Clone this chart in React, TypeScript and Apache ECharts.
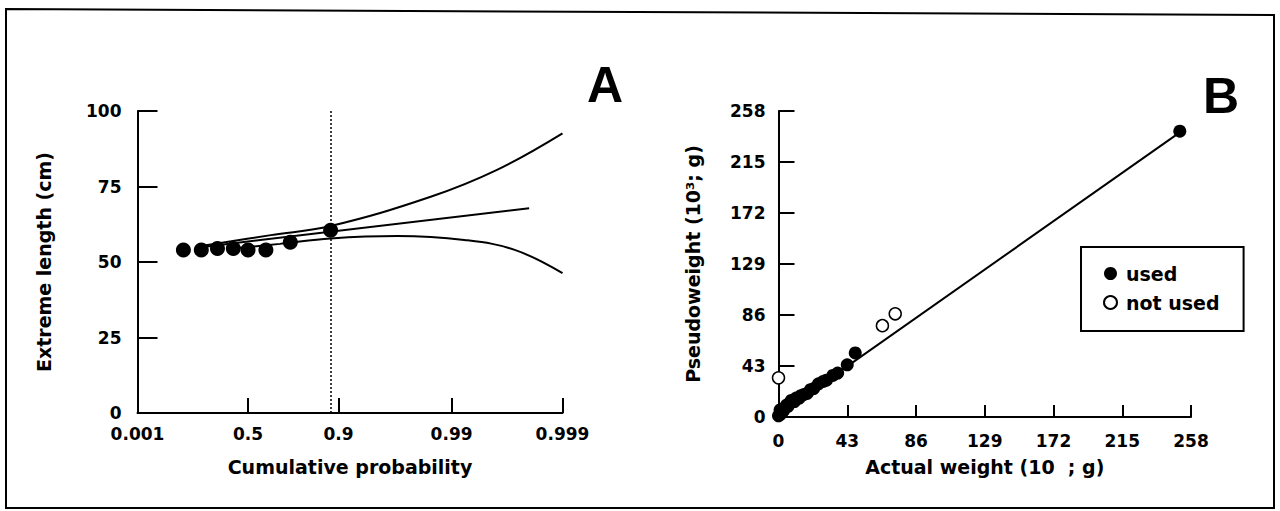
import React, { useEffect, useRef } from "react";
import * as echarts from "echarts";

// ---------- Panel A data ----------
const probTicks = [0.001, 0.5, 0.9, 0.99, 0.999];
const probTickLabels = ["0.001", "0.5", "0.9", "0.99", "0.999"];

const obsProb = [0.07, 0.16, 0.27, 0.39, 0.5, 0.62, 0.75, 0.883];
const obsLength = [54, 54, 54.5, 54.5, 54, 54, 56.5, 60.5];

const fitProb = [0.17, 0.998];
const fitLength = [55, 67.8];

const upperProb = [0.17, 0.65, 0.883, 0.9846, 0.9961, 0.999];
const upperLength = [55.4, 58.9, 61.9, 71.6, 80.5, 92.6];

const lowerProb = [0.42, 0.7, 0.883, 0.9694, 0.9923, 0.9973, 0.999];
const lowerLength = [54.6, 56.0, 57.8, 58.6, 57.3, 54.0, 46.3];

const refProb = 0.883;

// ---------- Panel B data ----------
const usedActual = [0, 1, 2, 1, 3, 4, 5, 6, 7, 8, 10, 11, 13, 14, 16, 18, 20, 22, 25, 28, 30, 34, 37, 43, 48, 251];
const usedPseudo = [1, 2, 4, 6, 5, 8, 10, 9, 12, 14, 13, 16, 16, 18, 19, 20, 23, 24, 28, 30, 31, 35, 37, 44, 54, 241];
const notUsedActual = [0, 65, 73];
const notUsedPseudo = [33, 77, 87];
const fitActual = [0, 251];
const fitPseudo = [2, 240];

// Gumbel (extreme value) probability scale
const gumbel = (p: number) => -Math.log(-Math.log(p));

const FONT = "DejaVu Sans";

export default function App() {
  const ref = useRef<HTMLDivElement>(null);

  useEffect(() => {
    if (!ref.current) return;
    const chart = echarts.init(ref.current, undefined, { renderer: "svg" });

    const tickPos = probTicks.map(gumbel);
    const labelStyle = {
      fontFamily: FONT,
      fontWeight: "bold" as const,
      fontSize: 17,
      color: "#000",
    };
    const nameStyle = {
      fontFamily: FONT,
      fontWeight: "bold" as const,
      fontSize: 19,
      color: "#000",
    };
    const axLine = { show: true, onZero: false, lineStyle: { color: "#000", width: 2 } };

    const zip = (xs: number[], ys: number[], f = (v: number) => v) =>
      xs.map((x, i) => [f(x), ys[i]]);

    chart.setOption({
      animation: false,
      backgroundColor: "#fff",
      title: [
        {
          text: "A",
          left: 582,
          top: 55,
          textStyle: { fontFamily: "Liberation Sans", fontWeight: "bold", fontSize: 50, color: "#000" },
        },
        {
          text: "B",
          left: 1198,
          top: 66,
          textStyle: { fontFamily: "Liberation Sans", fontWeight: "bold", fontSize: 50, color: "#000" },
        },
      ],
      legend: {
        data: [
          { name: "used", icon: "circle" },
          { name: "not used", icon: "circle" },
        ],
        orient: "vertical",
        left: 1081,
        top: 247,
        itemWidth: 13,
        itemHeight: 13,
        itemGap: 10,
        padding: [17, 24, 19, 22],
        borderColor: "#000",
        borderWidth: 2,
        textStyle: { fontFamily: FONT, fontWeight: "bold", fontSize: 19, color: "#000", padding: [0, 0, 0, 4] },
      },
      grid: [
        { left: 137.5, top: 111, width: 425, height: 302 },
        { left: 778.5, top: 111, width: 412.5, height: 306 },
      ],
      xAxis: [
        {
          gridIndex: 0,
          type: "value",
          min: gumbel(0.001),
          max: gumbel(0.999),
          axisLine: axLine,
          axisTick: { show: true, inside: true, length: 15, customValues: tickPos, lineStyle: { color: "#000", width: 2 } },
          axisLabel: {
            ...labelStyle,
            margin: 12,
            customValues: tickPos,
            showMinLabel: true,
            showMaxLabel: true,
            formatter: (v: number) => {
              const i = tickPos.findIndex((t) => Math.abs(t - v) < 1e-6);
              return i >= 0 ? probTickLabels[i] : "";
            },
          },
          splitLine: { show: false },
          name: "Cumulative probability",
          nameLocation: "middle",
          nameGap: 44,
          nameTextStyle: nameStyle,
        },
        {
          gridIndex: 1,
          type: "value",
          min: 0,
          max: 258,
          interval: 43,
          axisLine: axLine,
          axisTick: { show: true, inside: true, length: 12, lineStyle: { color: "#000", width: 2 } },
          axisLabel: { ...labelStyle, margin: 15 },
          splitLine: { show: false },
          name: "Actual weight (10  ; g)",
          nameLocation: "middle",
          nameGap: 40,
          nameTextStyle: nameStyle,
        },
      ],
      yAxis: [
        {
          gridIndex: 0,
          type: "value",
          min: 0,
          max: 100,
          interval: 25,
          axisLine: axLine,
          axisTick: { show: true, inside: true, length: 20, lineStyle: { color: "#000", width: 2 } },
          axisLabel: { ...labelStyle, margin: 16 },
          splitLine: { show: false },
          name: "Extreme length (cm)",
          nameLocation: "middle",
          nameRotate: 90,
          nameGap: 84,
          nameTextStyle: nameStyle,
        },
        {
          gridIndex: 1,
          type: "value",
          min: 0,
          max: 258,
          interval: 43,
          axisLine: axLine,
          axisTick: { show: true, inside: true, length: 16, lineStyle: { color: "#000", width: 2 } },
          axisLabel: { ...labelStyle, margin: 13 },
          splitLine: { show: false },
          name: "Pseudoweight (10³; g)",
          nameLocation: "middle",
          nameRotate: 90,
          nameGap: 76,
          nameTextStyle: nameStyle,
        },
      ],
      series: [
        {
          name: "upper",
          type: "line",
          xAxisIndex: 0,
          yAxisIndex: 0,
          data: zip(upperProb, upperLength, gumbel),
          smooth: 0.4,
          symbol: "none",
          lineStyle: { color: "#000", width: 2 },
          markLine: {
            silent: true,
            symbol: "none",
            label: { show: false },
            lineStyle: { color: "#000", width: 1.5, type: [2, 2] },
            data: [{ xAxis: gumbel(refProb) }],
          },
        },
        {
          name: "fit",
          type: "line",
          xAxisIndex: 0,
          yAxisIndex: 0,
          data: zip(fitProb, fitLength, gumbel),
          symbol: "none",
          lineStyle: { color: "#000", width: 2 },
        },
        {
          name: "lower",
          type: "line",
          xAxisIndex: 0,
          yAxisIndex: 0,
          data: zip(lowerProb, lowerLength, gumbel),
          smooth: 0.4,
          symbol: "none",
          lineStyle: { color: "#000", width: 2 },
        },
        {
          name: "observed",
          type: "scatter",
          xAxisIndex: 0,
          yAxisIndex: 0,
          data: zip(obsProb, obsLength, gumbel),
          symbolSize: 15,
          clip: false,
          itemStyle: { color: "#000", opacity: 1 },
        },
        {
          name: "weightFit",
          type: "line",
          xAxisIndex: 1,
          yAxisIndex: 1,
          data: zip(fitActual, fitPseudo),
          symbol: "none",
          lineStyle: { color: "#000", width: 2 },
        },
        {
          name: "used",
          type: "scatter",
          xAxisIndex: 1,
          yAxisIndex: 1,
          data: zip(usedActual, usedPseudo),
          symbolSize: 13,
          clip: false,
          itemStyle: { color: "#000", opacity: 1 },
        },
        {
          name: "not used",
          type: "scatter",
          xAxisIndex: 1,
          yAxisIndex: 1,
          data: zip(notUsedActual, notUsedPseudo),
          symbolSize: 12,
          clip: false,
          itemStyle: { color: "#fff", borderColor: "#000", borderWidth: 1.5, opacity: 1 },
        },
      ],
      graphic: [
        {
          type: "polygon",
          silent: true,
          shape: { points: [[6, 9], [1274, 15], [1274, 508], [6, 508]] },
          style: { fill: "none", stroke: "#000", lineWidth: 2 },
        },
      ],
    });

    return () => chart.dispose();
  }, []);

  return (
    <div
      ref={ref}
      style={{ position: "fixed", left: 0, top: 0, width: 1280, height: 511, background: "#fff" }}
    />
  );
}
